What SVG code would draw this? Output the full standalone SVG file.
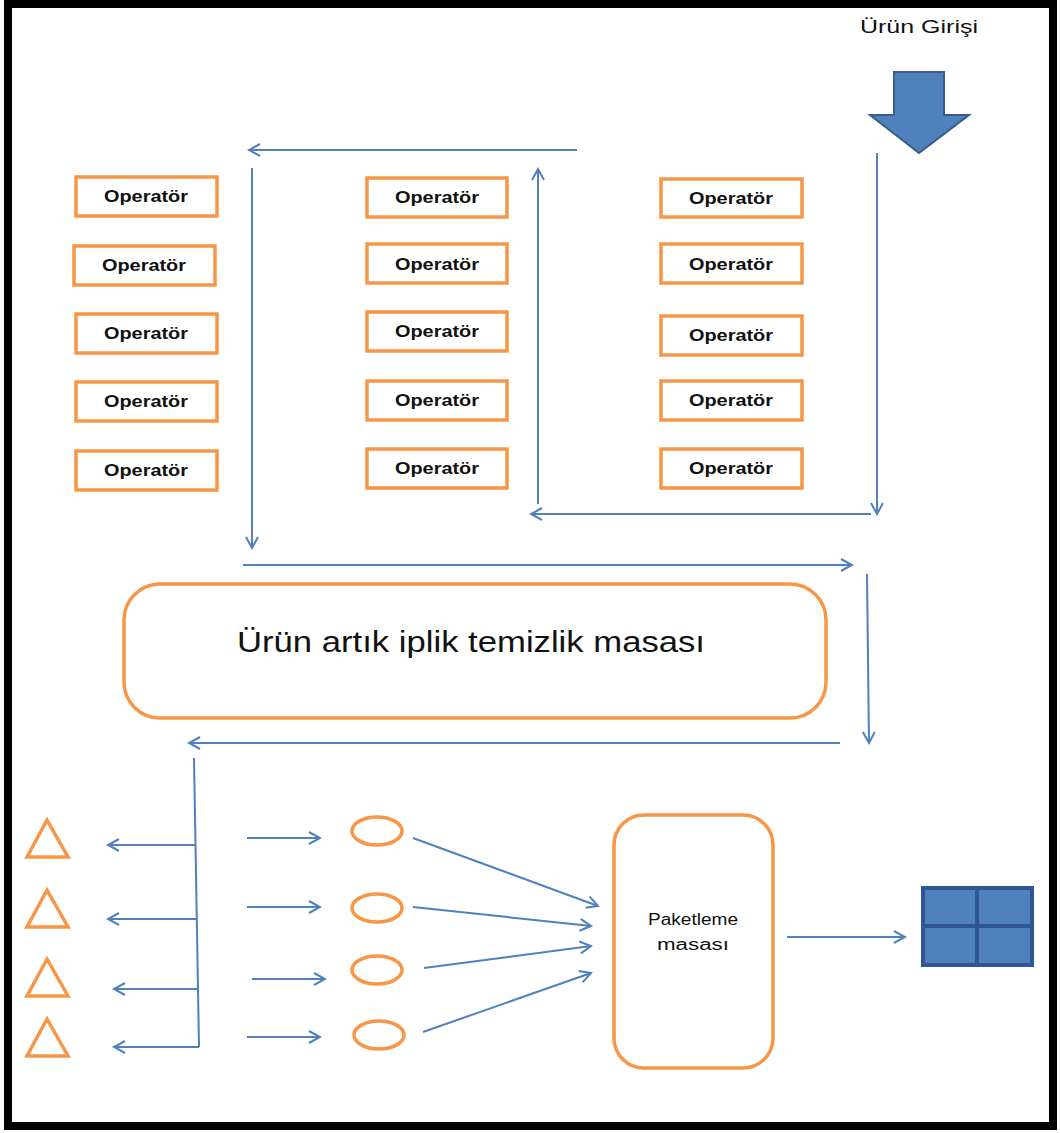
<svg xmlns="http://www.w3.org/2000/svg" width="1060" height="1133" viewBox="0 0 1060 1133">
<style>
.op rect{fill:#fff;stroke:#F79646;stroke-width:3.5}
.op text{font-family:"Liberation Sans",Arial,sans-serif;font-size:16px;font-weight:bold;fill:#111;text-anchor:middle}
.or{fill:#fff;stroke:#F79646;stroke-width:3.5}
.c{fill:none;stroke:#4F81BD;stroke-width:2}
.ca{fill:none;stroke:#4F81BD;stroke-width:2;marker-end:url(#ah)}
.lbl{font-family:"Liberation Sans",Arial,sans-serif;fill:#111;text-anchor:middle}
</style>
<defs>
<marker id="ah" viewBox="-14 -8 16 16" refX="0" refY="0" markerWidth="16" markerHeight="16" markerUnits="userSpaceOnUse" orient="auto">
<path d="M-11,-6 L0,0 L-11,6" fill="none" stroke="#4F81BD" stroke-width="2"/>
</marker>
</defs>
<rect x="0" y="0" width="1060" height="1133" fill="#fff"/>
<rect x="8" y="4" width="1045" height="1122" fill="#fff" stroke="#000" stroke-width="8"/>

<g id="urun-girisi">
<text class="lbl" x="919" y="33" font-size="18" textLength="118" lengthAdjust="spacingAndGlyphs">Ürün Girişi</text>
<path d="M894,72 L944,72 L944,115 L969,115 L919,153 L870,115 L894,115 Z" fill="#4F81BD" stroke="#385D8A" stroke-width="2"/>
</g>

<g id="operators">
<g id="op1-1" class="op"><rect x="76" y="177" width="141" height="39"/><text x="146" y="202" textLength="84" lengthAdjust="spacingAndGlyphs">Operatör</text></g>
<g id="op1-2" class="op"><rect x="74" y="246" width="141" height="39"/><text x="144" y="271" textLength="84" lengthAdjust="spacingAndGlyphs">Operatör</text></g>
<g id="op1-3" class="op"><rect x="76" y="314" width="141" height="39"/><text x="146" y="339" textLength="84" lengthAdjust="spacingAndGlyphs">Operatör</text></g>
<g id="op1-4" class="op"><rect x="76" y="382" width="141" height="39"/><text x="146" y="407" textLength="84" lengthAdjust="spacingAndGlyphs">Operatör</text></g>
<g id="op1-5" class="op"><rect x="76" y="451" width="141" height="39"/><text x="146" y="476" textLength="84" lengthAdjust="spacingAndGlyphs">Operatör</text></g>

<g id="op2-1" class="op"><rect x="367" y="178" width="140" height="39"/><text x="437" y="203" textLength="84" lengthAdjust="spacingAndGlyphs">Operatör</text></g>
<g id="op2-2" class="op"><rect x="367" y="244" width="140" height="39"/><text x="437" y="270" textLength="84" lengthAdjust="spacingAndGlyphs">Operatör</text></g>
<g id="op2-3" class="op"><rect x="367" y="312" width="140" height="39"/><text x="437" y="337" textLength="84" lengthAdjust="spacingAndGlyphs">Operatör</text></g>
<g id="op2-4" class="op"><rect x="367" y="381" width="140" height="39"/><text x="437" y="406" textLength="84" lengthAdjust="spacingAndGlyphs">Operatör</text></g>
<g id="op2-5" class="op"><rect x="367" y="449" width="140" height="39"/><text x="437" y="474" textLength="84" lengthAdjust="spacingAndGlyphs">Operatör</text></g>

<g id="op3-1" class="op"><rect x="661" y="179" width="141" height="38"/><text x="731" y="204" textLength="84" lengthAdjust="spacingAndGlyphs">Operatör</text></g>
<g id="op3-2" class="op"><rect x="661" y="244" width="141" height="39"/><text x="731" y="270" textLength="84" lengthAdjust="spacingAndGlyphs">Operatör</text></g>
<g id="op3-3" class="op"><rect x="661" y="316" width="141" height="39"/><text x="731" y="341" textLength="84" lengthAdjust="spacingAndGlyphs">Operatör</text></g>
<g id="op3-4" class="op"><rect x="661" y="381" width="141" height="39"/><text x="731" y="406" textLength="84" lengthAdjust="spacingAndGlyphs">Operatör</text></g>
<g id="op3-5" class="op"><rect x="661" y="449" width="141" height="39"/><text x="731" y="474" textLength="84" lengthAdjust="spacingAndGlyphs">Operatör</text></g>
</g>

<g id="temizlik-masasi">
<rect class="or" x="124" y="584" width="702" height="134" rx="36"/>
<text class="lbl" x="471" y="652" font-size="30" textLength="468" lengthAdjust="spacingAndGlyphs">Ürün artık iplik temizlik masası</text>
</g>

<g id="triangles">
<polygon id="tri1" class="or" points="47,820 27,857 68,857"/>
<polygon id="tri2" class="or" points="47,890 27,927 68,927"/>
<polygon id="tri3" class="or" points="47,959 27,996 68,996"/>
<polygon id="tri4" class="or" points="47,1019 27,1056 68,1056"/>
</g>

<g id="ellipses">
<ellipse id="el1" class="or" cx="377" cy="831" rx="25" ry="14"/>
<ellipse id="el2" class="or" cx="377" cy="908" rx="25" ry="14"/>
<ellipse id="el3" class="or" cx="377" cy="970" rx="25" ry="14"/>
<ellipse id="el4" class="or" cx="379" cy="1035" rx="25" ry="14"/>
</g>

<g id="paketleme-masasi">
<rect class="or" x="614" y="815" width="159" height="253" rx="30"/>
<text class="lbl" x="693" y="925" font-size="16" textLength="90" lengthAdjust="spacingAndGlyphs">Paketleme</text>
<text class="lbl" x="693" y="950" font-size="16" textLength="72" lengthAdjust="spacingAndGlyphs">masası</text>
</g>

<g id="paket">
<rect x="923" y="888" width="109" height="77" fill="#4F81BD" stroke="#2F5597" stroke-width="4"/>
<line x1="977" y1="888" x2="977" y2="965" stroke="#2F5597" stroke-width="4"/>
<line x1="923" y1="926" x2="1032" y2="926" stroke="#2F5597" stroke-width="4"/>
</g>

<g id="connectors">
<line class="ca" x1="577" y1="150" x2="249" y2="150"/>
<line class="ca" x1="252" y1="168" x2="252" y2="548"/>
<line class="ca" x1="877" y1="153" x2="877" y2="514"/>
<line class="ca" x1="871" y1="514" x2="531" y2="514"/>
<line class="ca" x1="538" y1="504" x2="538" y2="169"/>
<line class="ca" x1="243" y1="565" x2="852" y2="565"/>
<line class="ca" x1="867" y1="574" x2="869" y2="743"/>
<line class="ca" x1="840" y1="743" x2="189" y2="743"/>
<path class="c" d="M194,758 L199,1047"/>
<line class="ca" x1="195" y1="845" x2="108" y2="845"/>
<line class="ca" x1="196" y1="919" x2="108" y2="919"/>
<line class="ca" x1="198" y1="989" x2="114" y2="989"/>
<line class="ca" x1="199" y1="1047" x2="114" y2="1047"/>
<line class="ca" x1="247" y1="838" x2="320" y2="838"/>
<line class="ca" x1="247" y1="907" x2="320" y2="907"/>
<line class="ca" x1="252" y1="979" x2="325" y2="979"/>
<line class="ca" x1="247" y1="1037" x2="320" y2="1037"/>
<line class="ca" x1="413" y1="838" x2="598" y2="906"/>
<line class="ca" x1="413" y1="907" x2="591" y2="926"/>
<line class="ca" x1="424" y1="968" x2="591" y2="946"/>
<line class="ca" x1="423" y1="1032" x2="591" y2="973"/>
<line class="ca" x1="787" y1="937" x2="905" y2="937"/>
</g>
</svg>
